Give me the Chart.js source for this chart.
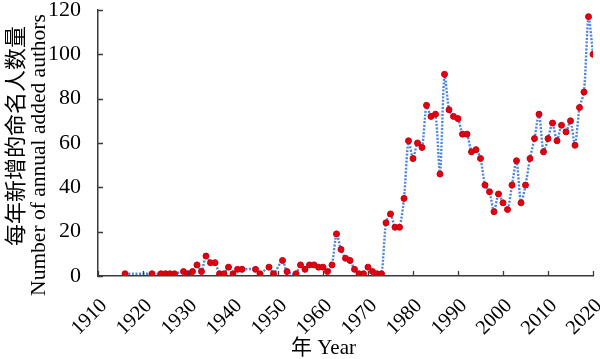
<!DOCTYPE html>
<html>
<head>
<meta charset="utf-8">
<script src="https://cdn.jsdelivr.net/npm/chart.js@4"></script>
<style>
  html, body { margin: 0; padding: 0; background: #fff; }
  #wrap { width: 600px; height: 359px; position: relative; }
</style>
</head>
<body>
<div id="wrap"><canvas id="chart"></canvas></div>
<script>
// Years that had newly named authors and how many
const years = [1916, 1922, 1924, 1925, 1926, 1927, 1929, 1930, 1931, 1932, 1933, 1934, 1935, 1936, 1937, 1938, 1939, 1940,
  1941, 1942, 1945, 1946, 1948, 1949, 1951, 1952, 1954, 1955, 1956, 1957, 1958, 1959, 1960, 1961, 1962, 1963, 1964, 1965,
  1966, 1967, 1968, 1969, 1970, 1971, 1972, 1973, 1974, 1975, 1976, 1977, 1978, 1979, 1980, 1981, 1982, 1983, 1984, 1985,
  1986, 1987, 1988, 1989, 1990, 1991, 1992, 1993, 1994, 1995, 1996, 1997, 1998, 1999, 2000, 2001, 2002, 2003, 2004, 2005,
  2006, 2007, 2008, 2009, 2010, 2011, 2012, 2013, 2014, 2015, 2016, 2017, 2018, 2019, 2020];
const counts = [1, 1, 1, 1, 1, 1, 2, 1, 2, 5, 2, 9, 6, 6, 1, 1, 4, 1,
  3, 3, 3, 1, 4, 1, 7, 2, 1, 5, 3, 5, 5, 4, 4, 2, 5, 19, 12, 8,
  7, 3, 1, 1, 4, 2, 1, 1, 24, 28, 22, 22, 35, 61, 53, 60, 58, 77, 72, 73,
  46, 91, 75, 72, 71, 64, 64, 56, 57, 53, 41, 38, 29, 37, 33, 30, 41, 52, 33, 41,
  53, 62, 73, 56, 62, 69, 61, 68, 65, 70, 59, 76, 83, 117, 100];

const xMin = 1910, xMax = 2020, xStep = 10;
const yMin = 0, yMax = 120, yStep = 20;
const yTitleZh = '每年新增的命名人数量';
const yTitleEn = 'Number of annual added authors';
const xTitle = '年 Year';

const axisColor = '#3a3a3a';
const serif = "'Liberation Serif', 'Times New Roman', 'Noto Sans CJK SC', serif";

// ticks pointing into the plot, plus the axis titles
const axisExtras = {
  id: 'axisExtras',
  afterDatasetsDraw(chart) {
    const ctx = chart.ctx;
    const { x, y } = chart.scales;
    ctx.save();
    ctx.strokeStyle = axisColor;
    ctx.lineWidth = 1.3;
    ctx.beginPath();
    x.ticks.forEach(t => {
      const px = Math.round(x.getPixelForValue(t.value)) + 0.5;
      ctx.moveTo(px, y.bottom);
      ctx.lineTo(px, y.bottom - 5);
    });
    y.ticks.forEach(t => {
      const py = Math.round(y.getPixelForValue(t.value)) + 0.5;
      ctx.moveTo(x.left, py);
      ctx.lineTo(x.left + 5, py);
    });
    ctx.stroke();
    ctx.restore();
  },
  afterDraw(chart) {
    const ctx = chart.ctx;
    const { x, y } = chart.scales;
    const midY = (y.top + y.bottom) / 2;
    ctx.save();
    ctx.fillStyle = '#000';
    ctx.textAlign = 'center';
    ctx.textBaseline = 'middle';
    // y titles, rotated
    ctx.save();
    ctx.translate(17, midY - 7);
    ctx.rotate(-Math.PI / 2);
    ctx.font = "22px 'Liberation Serif', 'Noto Sans CJK SC', serif";
    ctx.fillText(yTitleZh, 0, 0);
    ctx.restore();
    ctx.save();
    ctx.translate(39, midY + 12);
    ctx.rotate(-Math.PI / 2);
    ctx.font = "21.5px 'Liberation Serif', serif";
    ctx.fillText(yTitleEn, 0, 0);
    ctx.restore();
    // x title
    ctx.font = "21px 'Liberation Serif', 'Noto Sans CJK SC', serif";
    ctx.fillText(xTitle, (x.left + x.right) / 2 - 22, chart.height - 11);
    ctx.restore();
  }
};

const points = years.map((yr, i) => ({ x: yr, y: counts[i] }));

new Chart(document.getElementById('chart'), {
  type: 'line',
  data: {
    datasets: [{
      data: points,
      borderColor: '#4f86db',
      borderWidth: 2.4,
      borderDash: [2, 1.5],
      tension: 0.25,
      pointRadius: 3,
      pointBackgroundColor: '#e3000f',
      pointBorderColor: '#c4000d',
      pointBorderWidth: 1,
      fill: false
    }]
  },
  options: {
    responsive: true,
    maintainAspectRatio: false,
    animation: false,
    layout: { padding: { top: 10, right: 7, left: 0, bottom: 0 } },
    plugins: { legend: { display: false }, tooltip: { enabled: false } },
    scales: {
      x: {
        type: 'linear',
        min: xMin, max: xMax,
        afterFit: s => { s.height = 83; s.paddingRight = 0; },
        border: { color: axisColor, width: 1.5 },
        grid: { display: false },
        ticks: {
          stepSize: xStep,
          color: '#000',
          font: { family: serif, size: 20.5 },
          maxRotation: 45, minRotation: 45,
          padding: 10,
          labelOffset: 6,
          callback: v => String(v)
        }
      },
      y: {
        min: yMin, max: yMax,
        afterFit: s => { s.width = 98; s.paddingTop = 0; s.paddingBottom = 0; },
        border: { color: axisColor, width: 1.5 },
        grid: { display: false },
        ticks: {
          stepSize: yStep,
          color: '#000',
          font: { family: serif, size: 22 },
          padding: 9
        }
      }
    }
  },
  plugins: [axisExtras]
});
</script>
</body>
</html>
